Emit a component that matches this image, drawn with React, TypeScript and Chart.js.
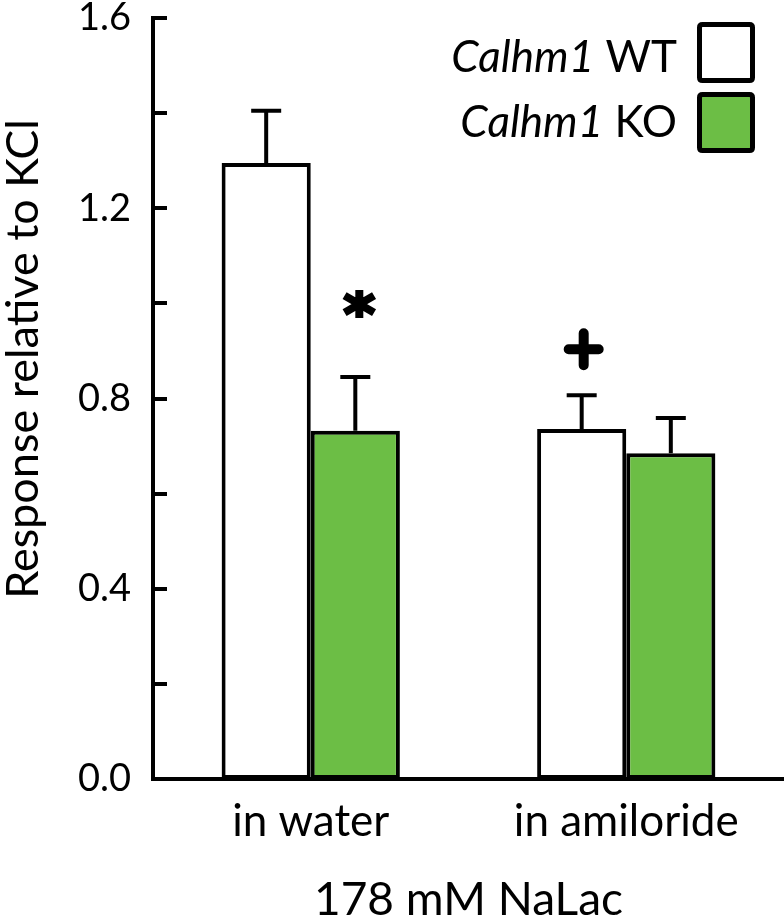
import React, { useEffect, useRef } from "react";
import { Chart, registerables } from "chart.js";

Chart.register(...registerables);

// ---- data ----
const categories = ["in water", "in amiloride"];
const geneName = "Calhm1";
const seriesNames = ["WT", "KO"];
const wtValues = [1.295, 0.736];
const wtErrors = [0.11, 0.071];
const koValues = [0.732, 0.685];
const koErrors = [0.113, 0.074];
const wtMarks = ["", "+"];
const koMarks = ["*", ""];
const yMin = 0;
const yMax = 1.6;
const yLabelStep = 0.4;
const yMinorStep = 0.2;
const yTitle = "Response relative to KCl";
const xTitle = "178 mM NaLac";

// ---- styles ----
const FONT = "Lato, 'Open Sans', sans-serif";
const GREEN = "rgb(108,190,69)";
const BLACK = "#000";
const markStyle: Record<string, { gap: number; dx: number }> = {
  "*": { gap: 60, dx: 4 },
  "+": { gap: 26, dx: 2 },
};

function roundRect(ctx: any, x: number, y: number, w: number, h: number, r: number) {
  ctx.beginPath();
  ctx.moveTo(x + r, y);
  ctx.lineTo(x + w - r, y);
  ctx.quadraticCurveTo(x + w, y, x + w, y + r);
  ctx.lineTo(x + w, y + h - r);
  ctx.quadraticCurveTo(x + w, y + h, x + w - r, y + h);
  ctx.lineTo(x + r, y + h);
  ctx.quadraticCurveTo(x, y + h, x, y + h - r);
  ctx.lineTo(x, y + r);
  ctx.quadraticCurveTo(x, y, x + r, y);
  ctx.closePath();
}

const extrasPlugin = {
  id: "extras",
  afterDatasetsDraw(chart: any) {
    const ctx = chart.ctx;
    const y = chart.scales.y;
    const area = chart.chartArea;
    ctx.save();
    // inward ticks on y axis
    ctx.strokeStyle = BLACK;
    ctx.lineWidth = 4;
    const n = Math.round((yMax - yMin) / yMinorStep);
    for (let i = 0; i <= n; i++) {
      const py = Math.round(y.getPixelForValue(yMin + i * yMinorStep));
      ctx.beginPath();
      ctx.moveTo(area.left, py);
      ctx.lineTo(area.left + 14, py);
      ctx.stroke();
    }
    // error bars and marks
    chart.data.datasets.forEach((ds: any, i: number) => {
      const meta = chart.getDatasetMeta(i);
      meta.data.forEach((el: any, j: number) => {
        const v = ds.data[j];
        const e = ds.errors[j];
        const yTop = y.getPixelForValue(v + e);
        ctx.strokeStyle = BLACK;
        ctx.lineWidth = 4;
        ctx.lineCap = "butt";
        ctx.beginPath();
        ctx.moveTo(el.x, el.y);
        ctx.lineTo(el.x, yTop);
        ctx.moveTo(el.x - 15, yTop);
        ctx.lineTo(el.x + 15, yTop);
        ctx.stroke();
        const m = ds.marks[j];
        if (m) {
          const st = markStyle[m];
          ctx.fillStyle = BLACK;
          ctx.strokeStyle = BLACK;
          if (m === "+") {
            const cx = el.x + st.dx;
            const cy = yTop - st.gap - 20;
            ctx.lineWidth = 10;
            ctx.lineCap = "round";
            ctx.beginPath();
            ctx.moveTo(cx - 15, cy);
            ctx.lineTo(cx + 15, cy);
            ctx.moveTo(cx, cy - 16);
            ctx.lineTo(cx, cy + 16);
            ctx.stroke();
          } else if (m === "*") {
            const cx = el.x + st.dx;
            const cy = yTop - st.gap - 13;
            ctx.lineWidth = 8;
            ctx.lineCap = "butt";
            ctx.beginPath();
            ctx.moveTo(cx, cy - 14);
            ctx.lineTo(cx, cy + 14);
            const a = Math.PI / 6;
            const L = 17;
            ctx.moveTo(cx - L * Math.cos(a), cy - L * Math.sin(a));
            ctx.lineTo(cx + L * Math.cos(a), cy + L * Math.sin(a));
            ctx.moveTo(cx - L * Math.cos(a), cy + L * Math.sin(a));
            ctx.lineTo(cx + L * Math.cos(a), cy - L * Math.sin(a));
            ctx.stroke();
          }
        }
      });
    });
    ctx.restore();
  },
  afterDraw(chart: any) {
    const ctx = chart.ctx;
    const area = chart.chartArea;
    ctx.save();
    ctx.fillStyle = BLACK;
    // axis titles
    ctx.font = `45px ${FONT}`;
    ctx.textAlign = "center";
    ctx.textBaseline = "alphabetic";
    ctx.save();
    ctx.translate(38, 359);
    ctx.rotate(-Math.PI / 2);
    ctx.fillText(yTitle, 0, 0);
    ctx.restore();
    ctx.font = `46px ${FONT}`;
    ctx.fillText(xTitle, (area.left + area.right) / 2, 915);

    // legend
    const fontSize = 44;
    const textRight = 677;
    const boxLeft = 697;
    const boxW = 58;
    const boxH = 61;
    const baselines = [72, 137];
    const boxTops = [22, 92];
    chart.data.datasets.forEach((ds: any, i: number) => {
      const suffix = " " + seriesNames[i];
      ctx.textBaseline = "alphabetic";
      ctx.fillStyle = BLACK;
      ctx.font = `${fontSize}px ${FONT}`;
      const w2 = ctx.measureText(suffix).width;
      ctx.textAlign = "right";
      ctx.fillText(suffix, textRight, baselines[i]);
      ctx.font = `italic ${fontSize}px ${FONT}`;
      ctx.fillText(geneName, textRight - w2, baselines[i]);
      ctx.fillStyle = ds.backgroundColor;
      ctx.strokeStyle = BLACK;
      ctx.lineWidth = 5;
      roundRect(ctx, boxLeft + 2.5, boxTops[i] + 2.5, boxW - 5, boxH - 5, 3);
      ctx.fill();
      ctx.stroke();
    });
    ctx.restore();
  },
};

export default function App() {
  const ref = useRef<HTMLCanvasElement | null>(null);
  useEffect(() => {
    if (!ref.current) return;
    const chart = new Chart(ref.current, {
      type: "bar",
      data: {
        labels: categories,
        datasets: [
          {
            label: geneName + " " + seriesNames[0],
            data: wtValues,
            errors: wtErrors,
            marks: wtMarks,
            backgroundColor: "#ffffff",
            borderColor: BLACK,
            borderWidth: 4,
            borderSkipped: false,
          } as any,
          {
            label: geneName + " " + seriesNames[1],
            data: koValues,
            errors: koErrors,
            marks: koMarks,
            backgroundColor: GREEN,
            borderColor: BLACK,
            borderWidth: 4,
            borderSkipped: false,
          } as any,
        ],
      },
      options: {
        responsive: false,
        animation: false,
        devicePixelRatio: 1,
        layout: { padding: { top: 18, right: 0, left: 0, bottom: 0 } },
        plugins: { legend: { display: false }, tooltip: { enabled: false } },
        datasets: { bar: { barPercentage: 1, categoryPercentage: 0.565 } },
        scales: {
          x: {
            type: "category",
            grid: { display: false, drawTicks: false },
            border: { display: true, color: BLACK, width: 4 },
            ticks: { color: BLACK, font: { family: FONT, size: 44 }, padding: 16 },
            title: { display: false },
            afterFit: (s: any) => {
              s.height = 141;
              s.paddingLeft = 0;
              s.paddingRight = 0;
            },
          },
          y: {
            min: yMin,
            max: yMax,
            grid: { display: false, drawTicks: false },
            border: { display: true, color: BLACK, width: 4 },
            ticks: {
              stepSize: yMinorStep,
              color: BLACK,
              font: { family: FONT, size: 38 },
              padding: 22,
              callback: (v: any) => {
                const r = Math.round(Number(v) / yLabelStep);
                return Math.abs(r * yLabelStep - Number(v)) < 1e-6 ? Number(v).toFixed(1) : "";
              },
            },
            title: { display: false },
            afterFit: (s: any) => {
              s.width = 153;
              s.paddingTop = 0;
              s.paddingBottom = 0;
            },
          },
        },
      } as any,
      plugins: [extrasPlugin],
    });
    return () => chart.destroy();
  }, []);
  return (
    <div style={{ position: "absolute", left: 0, top: 0, width: 784, height: 920, background: "#fff" }}>
      <canvas ref={ref} width={784} height={920} style={{ display: "block", width: 784, height: 920 }} />
    </div>
  );
}
